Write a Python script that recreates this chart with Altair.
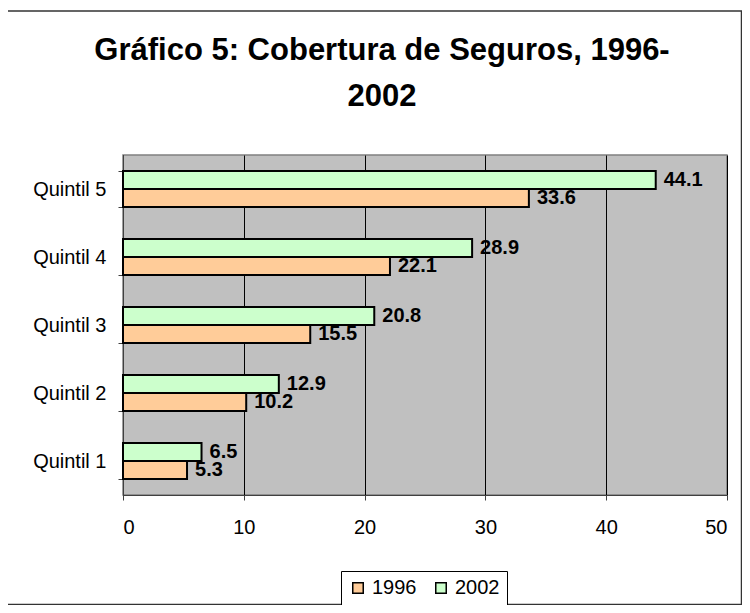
import altair as alt
import pandas as pd

quintiles = ["Quintil 5", "Quintil 4", "Quintil 3", "Quintil 2", "Quintil 1"]
values_1996 = [33.6, 22.1, 15.5, 10.2, 5.3]
values_2002 = [44.1, 28.9, 20.8, 12.9, 6.5]
years = ["1996", "2002"]
colors = ["#FFCC99", "#CCFFCC"]
x_ticks = [0, 10, 20, 30, 40, 50]
title_lines = ["Gráfico 5: Cobertura de Seguros, 1996-", "2002"]

rows = []
for q, v96, v02 in zip(quintiles, values_1996, values_2002):
    rows.append({"Quintil": q, "Año": "1996", "Valor": v96, "lbl": f"{v96:.1f}"})
    rows.append({"Quintil": q, "Año": "2002", "Valor": v02, "lbl": f"{v02:.1f}"})
df = pd.DataFrame(rows)

FONT = "Liberation Sans"

y_enc = alt.Y("Quintil:N", sort=quintiles, title=None,
              scale=alt.Scale(paddingInner=0.47, paddingOuter=0.235),
              axis=alt.Axis(labelFont=FONT, labelFontSize=20, labelColor="black",
                            tickBand="extent", tickSize=5, tickColor="#404040",
                            domainColor="#404040", labelPadding=12, grid=False))
yoff = alt.YOffset("Año:N", sort=["2002", "1996"], scale=alt.Scale(paddingInner=0, paddingOuter=0))
x_enc = alt.X("Valor:Q", title=None,
              scale=alt.Scale(domain=[0, 50], nice=False),
              axis=alt.Axis(values=x_ticks, labelFont=FONT, labelFontSize=20, labelColor="black",
                            tickSize=5, tickColor="#404040", domainColor="#404040",
                            labelPadding=17, grid=True, gridColor="black", gridWidth=1,
                            gridOpacity=1))

base = alt.Chart(df)
one = alt.Chart(pd.DataFrame({"a": [0]}))

frame = one.mark_rect(fill=None, stroke="#333333", strokeWidth=1.5).encode(
    x=alt.value(-116), x2=alt.value(618.5), y=alt.value(-144), y2=alt.value(449.5))

title = one.mark_text(font=FONT, fontSize=31, fontWeight="bold", color="black",
                      align="center", baseline="alphabetic", lineHeight=46).encode(
    x=alt.value(259), y=alt.value(-95), text=alt.value(title_lines))

bars = base.mark_bar(stroke="black", strokeWidth=2).encode(
    x=x_enc,
    y=y_enc,
    yOffset=yoff,
    color=alt.Color("Año:N", sort=years, title=None,
                    scale=alt.Scale(domain=years, range=colors),
                    legend=alt.Legend(orient="none", legendX=218, legendY=416,
                                      direction="horizontal", symbolType="square",
                                      symbolSize=110, symbolStrokeColor="black",
                                      symbolStrokeWidth=1.5, labelFont=FONT,
                                      labelFontSize=20, labelColor="black",
                                      labelOffset=4, columnPadding=14,
                                      strokeColor="black", fillColor="white",
                                      padding=7, cornerRadius=0)),
)

labels = base.mark_text(align="left", baseline="middle", dx=8, font=FONT,
                        fontSize=20, fontWeight="bold", color="black").encode(
    x="Valor:Q",
    y=alt.Y("Quintil:N", sort=quintiles),
    yOffset=alt.YOffset("Año:N", sort=["2002", "1996"]),
    text="lbl:N",
)

chart = alt.layer(frame, title, bars, labels).properties(
    width=604, height=340,
    background="white",
    autosize=alt.AutoSizeParams(type="none"),
    padding={"left": 115, "top": 147, "right": 15, "bottom": 110},
).configure_view(fill="#C0C0C0", stroke="#808080", strokeWidth=1.5)

chart.save("out.html", embed_options={"renderer": "svg", "actions": False})
